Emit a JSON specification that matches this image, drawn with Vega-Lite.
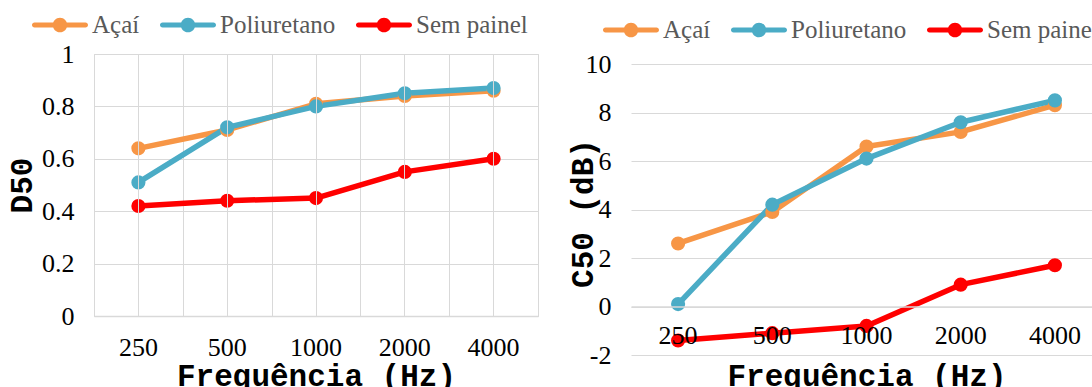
{
  "$schema": "https://vega.github.io/schema/vega-lite/v6.json",
  "background": "white",
  "padding": {"left": 5, "top": -4, "right": 0, "bottom": 0},
  "spacing": 28,
  "data": {
    "values": [
      {"freq": 250, "serie": "Açaí", "d50": 0.64, "c50": 2.6},
      {"freq": 500, "serie": "Açaí", "d50": 0.71, "c50": 3.9},
      {"freq": 1000, "serie": "Açaí", "d50": 0.81, "c50": 6.6},
      {"freq": 2000, "serie": "Açaí", "d50": 0.84, "c50": 7.2},
      {"freq": 4000, "serie": "Açaí", "d50": 0.86, "c50": 8.3},
      {"freq": 250, "serie": "Poliuretano", "d50": 0.51, "c50": 0.1},
      {"freq": 500, "serie": "Poliuretano", "d50": 0.72, "c50": 4.2},
      {"freq": 1000, "serie": "Poliuretano", "d50": 0.8, "c50": 6.1},
      {"freq": 2000, "serie": "Poliuretano", "d50": 0.85, "c50": 7.6},
      {"freq": 4000, "serie": "Poliuretano", "d50": 0.87, "c50": 8.5},
      {"freq": 250, "serie": "Sem painel", "d50": 0.42, "c50": -1.4},
      {"freq": 500, "serie": "Sem painel", "d50": 0.44, "c50": -1.1},
      {"freq": 1000, "serie": "Sem painel", "d50": 0.45, "c50": -0.8},
      {"freq": 2000, "serie": "Sem painel", "d50": 0.55, "c50": 0.9},
      {"freq": 4000, "serie": "Sem painel", "d50": 0.6, "c50": 1.7}
    ]
  },
  "config": {
    "view": {"stroke": "#d9d9d9", "strokeWidth": 1},
    "axis": {
      "labelFont": "Liberation Serif",
      "labelFontSize": 26,
      "labelColor": "#000000",
      "labelAngle": 0,
      "titleFont": "Liberation Mono",
      "titleFontSize": 31,
      "titleFontWeight": "bold",
      "titleColor": "#000000",
      "gridColor": "#d9d9d9",
      "gridWidth": 1,
      "domainColor": "#d9d9d9",
      "domainWidth": 1.5,
      "ticks": false
    },
    "legend": {
      "orient": "none",
      "direction": "horizontal",
      "symbolType": "M-0.91,-0.09H0.91A0.09,0.09,0,0,1,0.91,0.09H-0.91A0.09,0.09,0,0,1,-0.91,-0.09Z M0.26,0A0.26,0.26,0,1,1,-0.26,0A0.26,0.26,0,1,1,0.26,0Z",
      "symbolSize": 3136,
      "symbolStrokeWidth": 0,
      "symbolOpacity": 1,
      "labelFont": "Liberation Serif",
      "labelFontSize": 25,
      "labelColor": "#595959",
      "labelOffset": 4,
      "columnPadding": 20,
      "padding": 0
    }
  },
  "resolve": {"legend": {"color": "independent"}},
  "hconcat": [
    {
      "width": 444,
      "height": 262,
      "encoding": {
        "y": {
          "field": "d50",
          "type": "quantitative",
          "scale": {"domain": [0, 1]},
          "axis": {
            "title": "D50",
            "values": [0, 0.2, 0.4, 0.6, 0.8, 1],
            "format": "~g",
            "domain": false,
            "grid": true,
            "labelPadding": 20,
            "titleX": -72,
            "titleBaseline": "middle"
          }
        },
        "color": {
          "field": "serie",
          "type": "nominal",
          "scale": {"domain": ["Açaí", "Poliuretano", "Sem painel"], "range": ["#F79646", "#4BACC6", "#FF0000"]},
          "legend": {
            "title": null,
            "legendX": -62,
            "legendY": -57,
            "encoding": {"symbols": {"update": {"fill": {"scale": "color", "field": "value"}, "stroke": {"value": "transparent"}, "strokeWidth": {"value": 0}}}}
          }
        }
      },
      "layer": [
        {
          "mark": {"type": "line", "strokeWidth": 5.5, "strokeCap": "round", "strokeJoin": "round"},
          "encoding": {
            "x": {
              "field": "freq",
              "type": "ordinal",
              "bandPosition": 0.5,
              "scale": {"type": "band", "paddingInner": 0, "paddingOuter": 0},
              "axis": {
                "title": "Frequência (Hz)",
                "grid": true,
                "bandPosition": 0.5,
                "labelPadding": 18,
                "domain": true,
                "titleY": 60,
                "titleBaseline": "middle",
                "zindex": 1
              }
            }
          }
        },
        {
          "mark": {"type": "point", "filled": true, "size": 200, "opacity": 1, "strokeWidth": 0},
          "encoding": {
            "x": {
              "field": "freq",
              "type": "ordinal",
              "bandPosition": 0.5,
              "scale": {"type": "band", "paddingInner": 0, "paddingOuter": 0},
              "axis": {"title": null, "labels": false, "domain": false, "grid": true, "tickBand": "extent"}
            }
          }
        }
      ],
      "resolve": {"axis": {"x": "independent"}}
    },
    {
      "width": 471,
      "height": 301,
      "view": {"stroke": null},
      "encoding": {
        "y": {
          "field": "c50",
          "type": "quantitative",
          "scale": {"domain": [-2, 10.4124]},
          "axis": {
            "title": "C50 (dB)",
            "values": [-2, 0, 2, 4, 6, 8, 10],
            "labelExpr": "toString(datum.value)",
            "domain": false,
            "grid": true,
            "labelPadding": 20,
            "titleX": -48,
            "titleY": 159,
            "titleBaseline": "middle"
          }
        },
        "color": {
          "field": "serie",
          "type": "nominal",
          "scale": {"domain": ["Açaí", "Poliuretano", "Sem painel"], "range": ["#F79646", "#4BACC6", "#FF0000"]},
          "legend": {
            "title": null,
            "legendX": -28,
            "legendY": -52,
            "encoding": {"symbols": {"update": {"fill": {"scale": "color", "field": "value"}, "stroke": {"value": "transparent"}, "strokeWidth": {"value": 0}}}}
          }
        }
      },
      "layer": [
        {
          "transform": [{"aggregate": [{"op": "count", "as": "n"}], "groupby": ["freq"]}],
          "mark": {"type": "rule", "strokeWidth": 1},
          "encoding": {
            "x": {
              "field": "freq",
              "type": "ordinal",
              "bandPosition": 0,
              "scale": {"type": "band", "paddingInner": 0, "paddingOuter": 0},
              "axis": null
            },
            "y": {"datum": -2, "type": "quantitative"},
            "y2": {"datum": 10},
            "color": {"value": "#d9d9d9"}
          }
        },
        {
          "transform": [{"aggregate": [{"op": "count", "as": "n"}], "groupby": ["freq"]}],
          "mark": {"type": "rule", "strokeWidth": 1},
          "encoding": {
            "x": {
              "field": "freq",
              "type": "ordinal",
              "bandPosition": 0.5,
              "scale": {"type": "band", "paddingInner": 0, "paddingOuter": 0},
              "axis": null
            },
            "y": {"datum": -2, "type": "quantitative"},
            "y2": {"datum": 10},
            "color": {"value": "#d9d9d9"}
          }
        },
        {
          "mark": {"type": "line", "strokeWidth": 5.5, "strokeCap": "round", "strokeJoin": "round"},
          "encoding": {
            "x": {
              "field": "freq",
              "type": "ordinal",
              "bandPosition": 0.5,
              "scale": {"type": "band", "paddingInner": 0, "paddingOuter": 0},
              "axis": {
                "title": "Frequência (Hz)",
                "grid": false,
                "bandPosition": 0.5,
                "offset": -48.5,
                "labelPadding": 16,
                "domain": true,
                "titleY": 70,
                "titleBaseline": "middle",
                "zindex": 1
              }
            }
          }
        },
        {
          "mark": {"type": "point", "filled": true, "size": 200, "opacity": 1, "strokeWidth": 0},
          "encoding": {
            "x": {
              "field": "freq",
              "type": "ordinal",
              "bandPosition": 0.5,
              "scale": {"type": "band", "paddingInner": 0, "paddingOuter": 0},
              "axis": null
            }
          }
        }
      ],
      "resolve": {"axis": {"x": "independent"}}
    }
  ]
}
